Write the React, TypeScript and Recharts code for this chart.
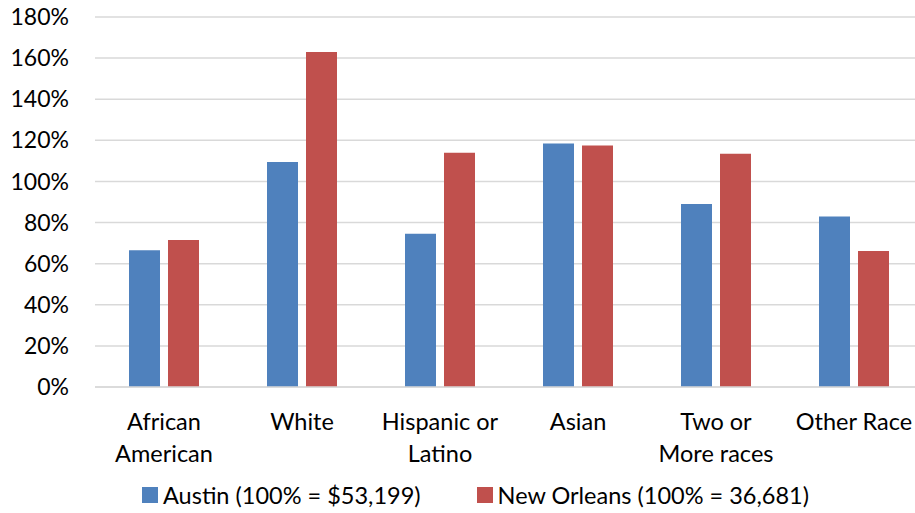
import React from "react";
import { BarChart, Bar, XAxis, YAxis, CartesianGrid, Legend } from "recharts";

const categories = ["African American", "White", "Hispanic or Latino", "Asian", "Two or More races", "Other Race"];
const categoryLines = [["African", "American"], ["White"], ["Hispanic or", "Latino"], ["Asian"], ["Two or", "More races"], ["Other Race"]];
const austin = [66.5, 109.5, 74.5, 118.5, 89, 83];
const newOrleans = [71.5, 163, 114, 117.5, 113.5, 66.2];
const yTicks = [0, 20, 40, 60, 80, 100, 120, 140, 160, 180];
const seriesNames = ["Austin (100% = $53,199)", "New Orleans (100% = 36,681)"];
const colors = ["#4F81BD", "#C0504D"];

const data = categories.map((c, i) => ({ name: c, austin: austin[i], newOrleans: newOrleans[i], idx: i }));

const FONT = "Lato, 'Open Sans', sans-serif";

const XTick = (props: any) => {
  const { x, y, payload } = props;
  const lines = categoryLines[payload.index] || [payload.value];
  return (
    <g transform={`translate(${x},${y})`}>
      {lines.map((l: string, i: number) => (
        <text key={i} x={0} y={35 + i * 32} textAnchor="middle" fill="#000" fontSize={23.5} fontFamily={FONT}>
          {l}
        </text>
      ))}
    </g>
  );
};

const LegendContent = () => (
  <div style={{ display: "flex", alignItems: "center", fontFamily: FONT, fontSize: 23.5, color: "#000", marginLeft: 142 }}>
    {seriesNames.map((n, i) => (
      <div key={i} style={{ display: "flex", alignItems: "center", marginRight: i === 0 ? 56 : 0 }}>
        <div style={{ width: 16, height: 16, background: colors[i], marginRight: 5 }} />
        <span>{n}</span>
      </div>
    ))}
  </div>
);

export default function App() {
  return (
    <div style={{ position: "absolute", left: 0, top: 0, width: 915, height: 513, overflow: "hidden", background: "#fff" }}>
      <BarChart
        width={923}
        height={513}
        data={data}
        margin={{ top: 17, right: 0, left: 0, bottom: 0 }}
        barGap={8}
        barSize={31}
      >
        <CartesianGrid vertical={false} stroke="#d9d9d9" strokeWidth={1.5} />
        <XAxis
          dataKey="name"
          axisLine={{ stroke: "#d9d9d9", strokeWidth: 1.5 }}
          tickLine={false}
          height={90}
          interval={0}
          tick={<XTick />}
        />
        <YAxis
          domain={[0, 180]}
          ticks={yTicks}
          interval={0}
          width={95}
          axisLine={false}
          tickLine={false}
          tickSize={0}
          tickMargin={26}
          tickFormatter={(v: number) => `${v}%`}
          tick={{ fill: "#000", fontSize: 23, fontFamily: FONT }}
        />
        <Legend
          verticalAlign="bottom"
          height={36}
          wrapperStyle={{ left: 0, width: 915, bottom: -4 }}
          content={<LegendContent />}
        />
        <Bar dataKey="austin" fill={colors[0]} isAnimationActive={false} />
        <Bar dataKey="newOrleans" fill={colors[1]} isAnimationActive={false} />
      </BarChart>
    </div>
  );
}
